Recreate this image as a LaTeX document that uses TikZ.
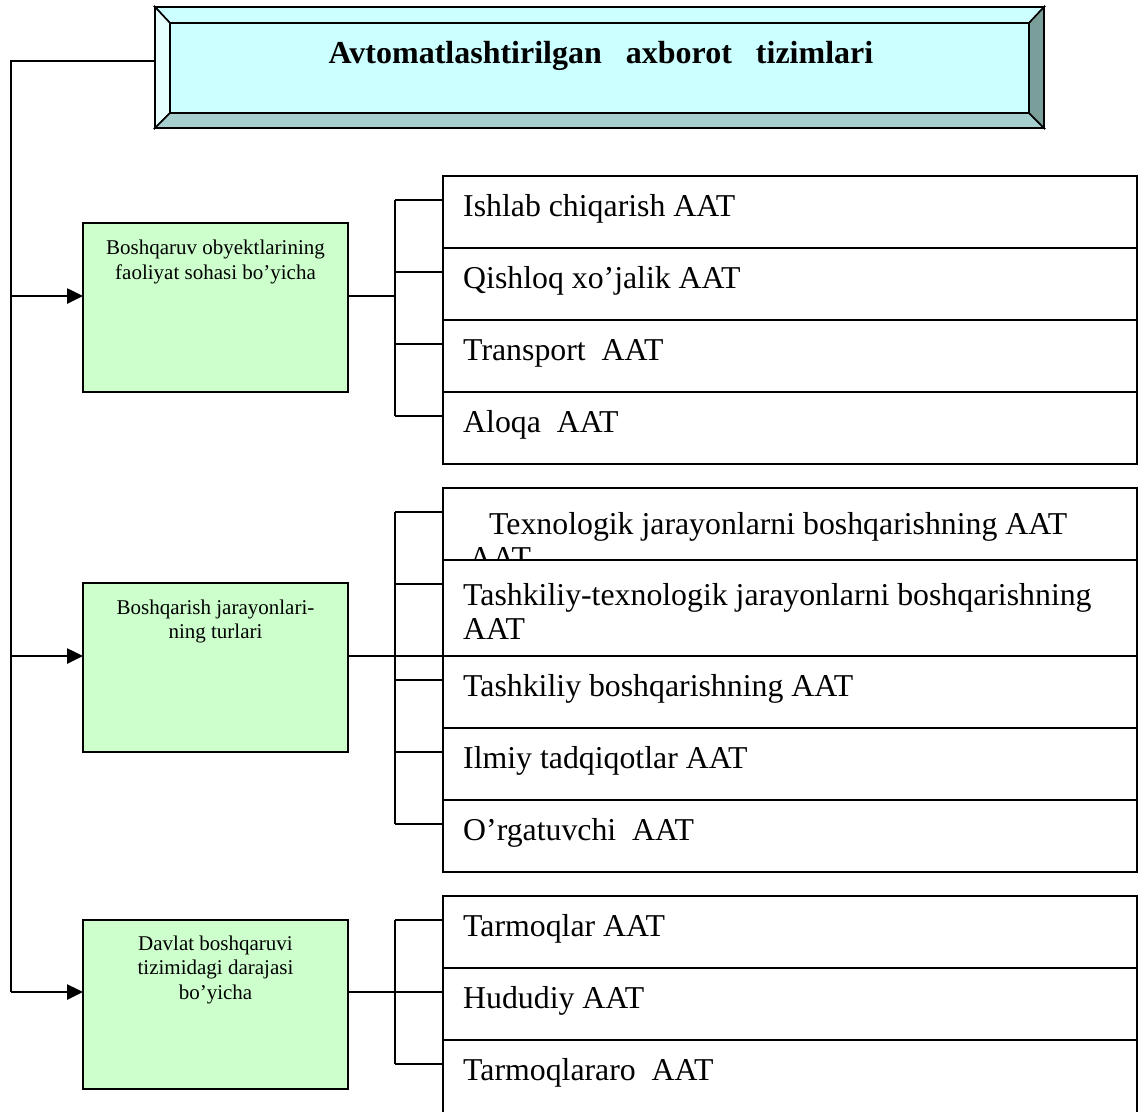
\documentclass[tikz,border=0pt]{standalone}
\usepackage{fontspec}
\setmainfont{Liberation Serif}
\usetikzlibrary{arrows.meta,calc}
\definecolor{face}{HTML}{CCFFFF}
\definecolor{bevL}{HTML}{E6FFFF}
\definecolor{bevB}{HTML}{A6CFCF}
\definecolor{bevR}{HTML}{7A9E9A}
\definecolor{grn}{HTML}{CCFFCC}
\begin{document}
\begin{tikzpicture}[x=1pt,y=-1pt,line join=miter,
  ln/.style={line width=2pt,draw=black},
  facet/.style={draw=black,line width=1.6pt},
  gbox/.style={draw=black,line width=2pt,fill=grn,rectangle,inner sep=0pt,outer sep=0pt,anchor=north west,minimum width=265pt,minimum height=169pt},
  rbox/.style={draw=black,line width=2.4pt,fill=white,rectangle,inner sep=0pt,outer sep=0pt,anchor=north west,minimum width=694pt,minimum height=72pt},
  gtxt/.style={anchor=north,align=center,inner sep=0pt,font=\fontsize{21}{24.5}\selectfont},
  rtxt/.style={anchor=base west,inner sep=0pt,font=\fontsize{31.8}{34}\selectfont},
  rtxtm/.style={anchor=north west,align=left,inner sep=0pt,font=\fontsize{31.8}{34}\selectfont},
  arr/.style={line width=2.6pt,-{Triangle[length=16pt,width=15pt]}},
]
\useasboundingbox (0,0) rectangle (1139,1111);

% ---------- title (bevelled box)
\node[draw=black,line width=2pt,rectangle,inner sep=0pt,outer sep=0pt,anchor=north west,
      minimum width=889pt,minimum height=121pt,fill=face] (titlebox) at (155,7) {};
\filldraw[facet,fill=face] (155,7) -- (1044,7) -- (1029,23) -- (170,23) -- cycle;
\filldraw[facet,fill=bevL] (155,7) -- (170,23) -- (170,113) -- (155,128) -- cycle;
\filldraw[facet,fill=bevB] (155,128) -- (170,113) -- (1029,113) -- (1044,128) -- cycle;
\filldraw[facet,fill=bevR] (1044,7) -- (1029,23) -- (1029,113) -- (1044,128) -- cycle;
\node[draw=black,line width=1.6pt,rectangle,inner sep=0pt,outer sep=0pt,anchor=north west,
      minimum width=859pt,minimum height=90pt,fill=face] (titleface) at (170,23) {};
\draw[line width=2pt] (155,7) rectangle (1044,128);
\node[anchor=base,inner sep=0pt,font=\fontsize{32}{36}\selectfont\bfseries] (titletext) at (601,63)
  {Avtomatlashtirilgan\ \ \ axborot\ \ \ tizimlari};

% ---------- left green boxes
\node[gbox] (b1) at (83,223) {};
\node[gtxt] (t1) at ($(b1.north)+(0,17)$) {Boshqaruv obyektlarining\\faoliyat sohasi bo’yicha};
\node[gbox] (b2) at (83,583) {};
\node[gtxt] (t2) at ($(b2.north)+(0,16.5)$) {Boshqarish jarayonlari-\\ning turlari};
\node[gbox] (b3) at (83,920) {};
\node[gtxt] (t3) at ($(b3.north)+(0,15.5)$) {Davlat boshqaruvi\\tizimidagi darajasi\\bo’yicha};

% ---------- coordinates
\coordinate (trunk) at (11,61);
\coordinate (c1) at (395,296);
\coordinate (c2) at (395,656);
\coordinate (c3) at (395,992);

% ---------- right boxes, group 1
\node[rbox] (r11) at (443,176) {};
\node[rtxt] (s11) at ($(r11.north west)+(20,40)$) {Ishlab chiqarish AAT};
\node[rbox] (r12) at (443,248) {};
\node[rtxt] (s12) at ($(r12.north west)+(20,40)$) {Qishloq xo’jalik AAT};
\node[rbox] (r13) at (443,320) {};
\node[rtxt] (s13) at ($(r13.north west)+(20,40)$) {Transport\ \ AAT};
\node[rbox] (r14) at (443,392) {};
\node[rtxt] (s14) at ($(r14.north west)+(20,40)$) {Aloqa\ \ AAT};

% ---------- right boxes, group 2
\node[rbox] (r21) at (443,488) {};
\node[rtxtm] (s21) at ($(r21.north west)+(20,24.5)$) {\hspace*{26pt}Texnologik jarayonlarni boshqarishning AAT\\\hspace*{6pt}AAT};
\node[rbox,minimum height=96pt] (r22) at (443,560) {};
\node[rtxtm] (s22) at ($(r22.north west)+(20,23.5)$) {Tashkiliy-texnologik jarayonlarni boshqarishning\\AAT};
\node[rbox] (r23) at (443,656) {};
\node[rtxt] (s23) at ($(r23.north west)+(20,40)$) {Tashkiliy boshqarishning AAT};
\node[rbox] (r24) at (443,728) {};
\node[rtxt] (s24) at ($(r24.north west)+(20,40)$) {Ilmiy tadqiqotlar AAT};
\node[rbox] (r25) at (443,800) {};
\node[rtxt] (s25) at ($(r25.north west)+(20,40)$) {O’rgatuvchi\ \ AAT};

% ---------- right boxes, group 3
\node[rbox] (r31) at (443,896) {};
\node[rtxt] (s31) at ($(r31.north west)+(20,40)$) {Tarmoqlar AAT};
\node[rbox] (r32) at (443,968) {};
\node[rtxt] (s32) at ($(r32.north west)+(20,40)$) {Hududiy AAT};
\begin{scope}
\clip (0,0) rectangle (1139,1111);
\node[rbox,minimum height=90pt] (r33) at (443,1040) {};
\end{scope}
\node[rtxt] (s33) at ($(r33.north west)+(20,40)$) {Tarmoqlararo\ \ AAT};

% ---------- trunk and arrows
\draw[ln] (titlebox.west |- trunk) -- (trunk) -- (trunk |- c3);
\draw[arr] (trunk |- c1) -- (b1.west |- c1);
\draw[arr] (trunk |- c2) -- (b2.west |- c2);
\draw[arr] (trunk |- c3) -- (b3.west |- c3);

% ---------- bracket group 1
\coordinate (k1a) at (395,200);
\coordinate (k1b) at (395,272);
\coordinate (k1c) at (395,344);
\coordinate (k1d) at (395,416);
\draw[ln] (b1.east |- c1) -- (c1);
\draw[ln] (k1a) -- (k1d);
\draw[ln] (k1a) -- (k1a -| r11.west);
\draw[ln] (k1b) -- (k1b -| r12.west);
\draw[ln] (k1c) -- (k1c -| r13.west);
\draw[ln] (k1d) -- (k1d -| r14.west);

% ---------- bracket group 2
\coordinate (k2a) at (395,512);
\coordinate (k2b) at (395,584);
\coordinate (k2c) at (395,680);
\coordinate (k2d) at (395,752);
\coordinate (k2e) at (395,824);
\draw[ln] (b2.east |- c2) -- (c2 -| r23.west);
\draw[ln] (k2a) -- (k2e);
\draw[ln] (k2a) -- (k2a -| r21.west);
\draw[ln] (k2b) -- (k2b -| r22.west);
\draw[ln] (k2c) -- (k2c -| r23.west);
\draw[ln] (k2d) -- (k2d -| r24.west);
\draw[ln] (k2e) -- (k2e -| r25.west);

% ---------- bracket group 3
\coordinate (k3a) at (395,920);
\coordinate (k3c) at (395,1064);
\draw[ln] (b3.east |- c3) -- (c3 -| r32.west);
\draw[ln] (k3a) -- (k3c);
\draw[ln] (k3a) -- (k3a -| r31.west);
\draw[ln] (k3c) -- (k3c -| r33.west);
\end{tikzpicture}
\end{document}
